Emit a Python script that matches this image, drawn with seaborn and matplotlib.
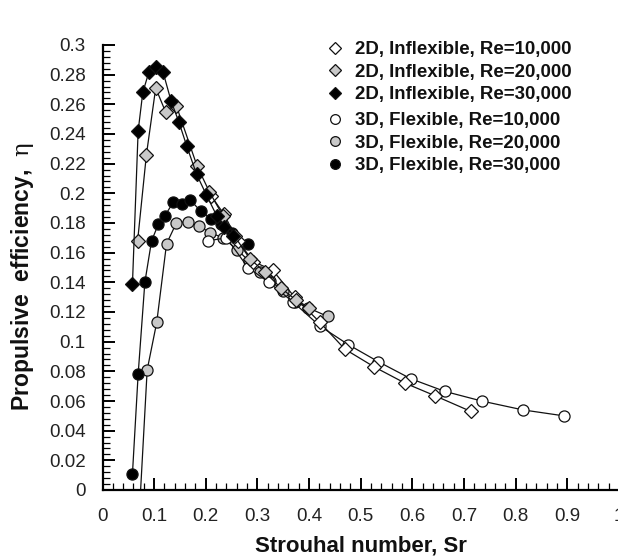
import numpy as np
import pandas as pd
import matplotlib
matplotlib.use("Agg")
import matplotlib.pyplot as plt
from matplotlib.lines import Line2D
from matplotlib.ticker import MultipleLocator, FormatStrFormatter
import seaborn as sns

# ---- data (Strouhal number, propulsive efficiency) ----
d2_30k_x = [0.058, 0.069, 0.078, 0.090, 0.104, 0.117, 0.133, 0.148, 0.163, 0.182, 0.201, 0.221, 0.236, 0.252]
d2_30k_y = [0.139, 0.242, 0.268, 0.282, 0.285, 0.282, 0.262, 0.248, 0.232, 0.213, 0.199, 0.185, 0.177, 0.171]

d2_20k_x = [0.068, 0.085, 0.103, 0.122, 0.143, 0.183, 0.207, 0.233, 0.256, 0.285, 0.314, 0.346, 0.375, 0.400]
d2_20k_y = [0.168, 0.226, 0.271, 0.255, 0.259, 0.2185, 0.201, 0.185, 0.171, 0.156, 0.147, 0.136, 0.128, 0.123]

d2_10k_x = [0.211, 0.235, 0.262, 0.292, 0.330, 0.372, 0.421, 0.469, 0.526, 0.586, 0.644, 0.713]
d2_10k_y = [0.198, 0.186, 0.168, 0.154, 0.148, 0.130, 0.113, 0.095, 0.083, 0.072, 0.0635, 0.053]

d3_30k_x = [0.058, 0.069, 0.082, 0.095, 0.108, 0.121, 0.137, 0.153, 0.170, 0.190, 0.210, 0.230, 0.250, 0.281]
d3_30k_y = [0.011, 0.078, 0.140, 0.168, 0.179, 0.185, 0.194, 0.193, 0.1955, 0.188, 0.183, 0.179, 0.1735, 0.166]

d3_20k_x = [0.073, 0.0865, 0.105, 0.124, 0.143, 0.165, 0.186, 0.209, 0.233, 0.261, 0.283, 0.304, 0.325, 0.350, 0.372, 0.397, 0.436]
d3_20k_y = [-0.005, 0.081, 0.113, 0.166, 0.180, 0.181, 0.178, 0.1735, 0.170, 0.162, 0.1545, 0.147, 0.141, 0.134, 0.127, 0.123, 0.117]

d3_10k_x = [0.204, 0.240, 0.2815, 0.322, 0.368, 0.421, 0.476, 0.534, 0.597, 0.6625, 0.734, 0.814, 0.893]
d3_10k_y = [0.168, 0.170, 0.150, 0.140, 0.127, 0.1105, 0.098, 0.0865, 0.075, 0.0665, 0.060, 0.054, 0.050]

labels = ["2D, Inflexible, Re=10,000", "2D, Inflexible, Re=20,000", "2D, Inflexible, Re=30,000",
          "3D, Flexible, Re=10,000", "3D, Flexible, Re=20,000", "3D, Flexible, Re=30,000"]

x_ticks = [0, 0.1, 0.2, 0.3, 0.4, 0.5, 0.6, 0.7, 0.8, 0.9, 1]

WHITE, GRAY, BLACK = "#ffffff", "#c8c8c8", "#000000"

sns.set_theme(style="ticks")
plt.rcParams["font.family"] = ["Liberation Sans", "DejaVu Sans"]
plt.rcParams["mathtext.fontset"] = "custom"
plt.rcParams["mathtext.rm"] = "DejaVu Serif"

fig = plt.figure(figsize=(6.18, 5.56), dpi=100)
W, H = 618, 556
x0, x1 = 102.5, 619.0
y0, y1 = 490.0, 45.0
ax = fig.add_axes([x0 / W, (H - y0) / H, (x1 - x0) / W, (y0 - y1) / H])

series = [
    (d3_20k_x, d3_20k_y, "o", GRAY, 8.0),
    (d3_10k_x, d3_10k_y, "o", WHITE, 8.0),
    (d3_30k_x, d3_30k_y, "o", BLACK, 8.0),
    (d2_10k_x, d2_10k_y, "D", WHITE, 7.2),
    (d2_20k_x, d2_20k_y, "D", GRAY, 7.2),
    (d2_30k_x, d2_30k_y, "D", BLACK, 7.2),
]
for xs, ys, mk, fc, ms in series:
    df = pd.DataFrame({"Sr": xs, "eta": ys})
    sns.lineplot(data=df, x="Sr", y="eta", ax=ax, estimator=None, sort=False,
                 color="#111111", linewidth=0.9, marker=mk, markersize=ms,
                 markerfacecolor=fc, markeredgecolor="#111111", markeredgewidth=0.9)

ax.set_xlim(0, 1)
ax.set_ylim(0, 0.3)
ax.set_xticks(x_ticks)
ax.xaxis.set_major_formatter(FormatStrFormatter("%g"))
ax.yaxis.set_major_locator(MultipleLocator(0.02))
ax.yaxis.set_major_formatter(FormatStrFormatter("%g"))
ax.xaxis.set_minor_locator(MultipleLocator(0.02))
ax.yaxis.set_minor_locator(MultipleLocator(0.004))

for s in ["top", "right"]:
    ax.spines[s].set_visible(False)
for s in ["left", "bottom"]:
    ax.spines[s].set_linewidth(1.6)
    ax.spines[s].set_color("black")

ax.tick_params(which="major", direction="in", length=8.5, width=1.4, colors="black",
               labelsize=13.5, labelcolor="#222222")
ax.tick_params(which="minor", direction="in", length=4.8, width=0.9, colors="black")
ax.tick_params(axis="x", which="major", pad=13)
ax.tick_params(axis="y", which="major", pad=12)

ax.set_xlabel("Strouhal number, Sr", fontsize=16, fontweight="bold", color="#111111")
ax.set_ylabel(r"Propulsive  efficiency,  $\mathrm{\eta}$", fontsize=16.5, fontweight="bold", color="#111111")
ax.xaxis.set_label_coords(0.5, -0.103)
ax.yaxis.set_label_coords(-0.128, 0.479)

def handles(specs):
    return [Line2D([], [], ls="none", marker=m, markersize=s, markerfacecolor=c,
                   markeredgecolor="#111111", markeredgewidth=0.9) for m, c, s in specs]

h1 = handles([("D", WHITE, 6.2), ("D", GRAY, 6.2), ("D", BLACK, 6.2)])
h2 = handles([("o", WHITE, 7), ("o", GRAY, 7), ("o", BLACK, 7)])
leg_kw = dict(frameon=False, prop={"weight": "bold", "size": 13.4}, handletextpad=0.55,
              labelspacing=0.30, handlelength=1.0, borderpad=0, borderaxespad=0,
              labelcolor="#111111")
leg1 = fig.legend(h1, labels[:3], loc="upper left",
                  bbox_to_anchor=(326 / W, (H - 41) / H), **leg_kw)
leg2 = fig.legend(h2, labels[3:], loc="upper left",
                  bbox_to_anchor=(326 / W, (H - 112) / H), **leg_kw)

fig.savefig("out.png", dpi=100)
